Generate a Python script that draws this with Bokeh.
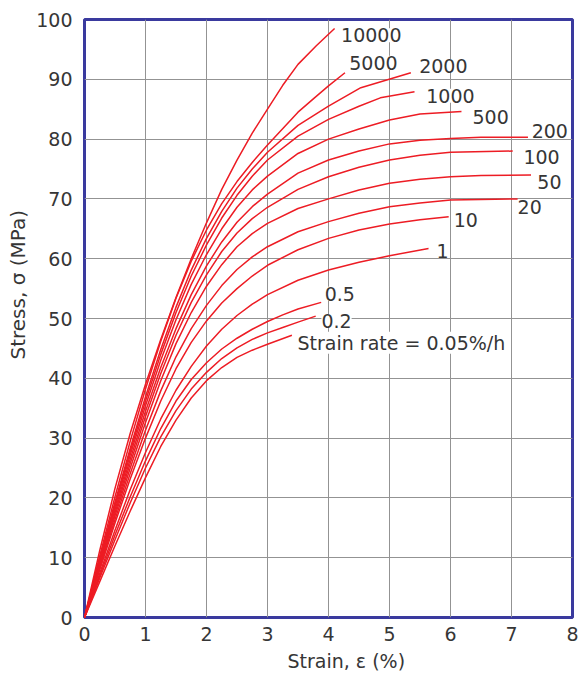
from bokeh.plotting import figure
from bokeh.models import Label, Title, Range1d, FixedTicker
from bokeh.embed import file_html
from bokeh.resources import INLINE

# ---- data: strain (%) and stress (MPa) for each strain rate (%/h) ----
early = [0, 0.25, 0.5, 0.75, 1, 1.25, 1.5, 1.75, 2, 2.25, 2.5, 2.75, 3]

strain_10000 = early + [3.25, 3.5, 3.8, 4.1]
stress_10000 = [0, 11.2, 21.6, 30.8, 39, 46.5, 53.5, 60, 66, 71.6, 76.5, 81, 85,
                89, 92.5, 95.6, 98.5]

strain_5000 = early + [3.5, 3.77, 4.0, 4.27]
stress_5000 = [0, 10.3, 20.2, 29.5, 38.2, 46.2, 53.4, 59.6, 64.8, 69.2, 72.9, 76.1, 79.0,
               84.5, 86.9, 88.9, 91.1]

strain_2000 = early + [3.5, 4, 4.53, 5.35]
stress_2000 = [0, 9.8, 19.3, 28.3, 36.9, 44.8, 51.9, 58.1, 63.4, 67.9, 71.8, 75, 77.8,
               82.3, 85.5, 88.6, 91.1]

strain_1000 = early + [3.5, 4, 4.5, 4.85, 5.41]
stress_1000 = [0, 9.6, 18.9, 27.8, 36.2, 44, 51, 57.1, 62.3, 66.8, 70.6, 73.8, 76.5,
               80.5, 83.3, 85.5, 86.9, 87.9]

strain_500 = early + [3.5, 4, 4.5, 5, 5.5, 6.18]
stress_500 = [0, 9.4, 18.5, 27.2, 35.4, 43, 49.8, 55.7, 60.7, 65, 68.6, 71.5, 73.8,
              77.6, 80, 81.7, 83.2, 84.2, 84.6]

strain_200 = early + [3.5, 4, 4.5, 5, 5.5, 6, 6.5, 7.27]
stress_200 = [0, 9.1, 18, 26.5, 34.5, 41.8, 48.3, 54, 58.8, 62.8, 66.1, 68.7, 70.8,
              74.3, 76.5, 78, 79.2, 79.8, 80.1, 80.3, 80.3]

strain_100 = early + [3.5, 4, 4.5, 5, 5.5, 6, 7.02]
stress_100 = [0, 8.9, 17.5, 25.8, 33.6, 40.8, 47.2, 52.7, 57.3, 61.2, 64.3, 66.7, 68.6,
              71.6, 73.7, 75.3, 76.5, 77.3, 77.8, 78]

strain_50 = early + [3.5, 4, 4.5, 5, 5.5, 6, 6.5, 7.32]
stress_50 = [0, 8.6, 17, 25, 32.6, 39.6, 45.8, 51, 55.4, 59, 62, 64.2, 65.9,
             68.4, 70, 71.5, 72.6, 73.3, 73.7, 73.9, 74]

strain_20 = early + [3.5, 4, 4.5, 5, 5.5, 6, 7.1]
stress_20 = [0, 8.3, 16.4, 24.1, 31.3, 37.9, 43.6, 48.3, 52.2, 55.5, 58.2, 60.3, 62.0,
             64.5, 66.2, 67.6, 68.7, 69.3, 69.8, 70]

strain_10 = early + [3.5, 4, 4.5, 5, 5.5, 5.97]
stress_10 = [0, 8, 15.8, 23.2, 30, 36.2, 41.6, 46, 49.6, 52.6, 55, 57.1, 58.9,
             61.5, 63.4, 64.8, 65.8, 66.5, 67]

strain_1 = early + [3.5, 4, 4.5, 5, 5.64]
stress_1 = [0, 7.4, 14.6, 21.4, 27.6, 33.2, 38, 42, 45.4, 48.2, 50.5, 52.4, 54.0,
            56.4, 58.1, 59.4, 60.5, 61.7]

strain_05 = early + [3.25, 3.5, 3.88]
stress_05 = [0, 7, 13.8, 20.2, 26.2, 31.6, 36.2, 39.8, 42.6, 44.9, 46.7, 48.2, 49.5,
             50.6, 51.6, 52.7]

strain_02 = early + [3.25, 3.5, 3.79]
stress_02 = [0, 6.6, 13, 19.2, 25, 30.2, 34.6, 38.2, 41, 43.3, 45.1, 46.5, 47.6,
             48.5, 49.4, 50.4]

strain_005 = early + [3.4]
stress_005 = [0, 6, 12, 17.8, 23.4, 28.6, 33, 36.7, 39.6, 41.8, 43.5, 44.7, 45.7, 47.2]

curve_labels = ["10000", "5000", "2000", "1000", "500", "200", "100",
                "50", "20", "10", "1", "0.5", "0.2", "Strain rate = 0.05%/h"]

x_ticks = [0, 1, 2, 3, 4, 5, 6, 7, 8]
y_ticks = [0, 10, 20, 30, 40, 50, 60, 70, 80, 90, 100]

series = [
    (strain_10000, stress_10000), (strain_5000, stress_5000),
    (strain_2000, stress_2000), (strain_1000, stress_1000),
    (strain_500, stress_500), (strain_200, stress_200),
    (strain_100, stress_100), (strain_50, stress_50),
    (strain_20, stress_20), (strain_10, stress_10),
    (strain_1, stress_1), (strain_05, stress_05),
    (strain_02, stress_02), (strain_005, stress_005),
]

# label offsets (screen px) from the end of each curve
label_offsets = [(6.5, -6.7), (4.3, 10), (8.3, 6.7), (11.7, -4), (11, -5.5),
                 (3.7, 6.5), (10.7, -6), (6.3, -7.5), (0, -8), (5, -3.5),
                 (8, -2), (3.5, 8.7), (5.7, -5), (5.6, -7.5)]

FONT = "DejaVu Sans"
TEXT_COLOR = "#363636"
RED = "#ed1c24"
BLUE = "#3a3a9e"

p = figure(frame_width=488, frame_height=598,
           x_range=Range1d(0, 8), y_range=Range1d(0, 100),
           output_backend="svg", toolbar_location=None,
           min_border_left=77, min_border_right=9, min_border_top=19,
           min_border_bottom=50)

p.background_fill_color = "white"
p.border_fill_color = "white"
p.outline_line_color = BLUE
p.outline_line_width = 3

for ax in (p.xaxis[0], p.yaxis[0]):
    ax.axis_line_color = None
    ax.major_tick_line_color = None
    ax.minor_tick_line_color = None
    ax.major_label_text_font = FONT
    ax.major_label_text_font_size = "19px"
    ax.major_label_text_color = TEXT_COLOR

p.xaxis.ticker = FixedTicker(ticks=x_ticks)
p.yaxis.ticker = FixedTicker(ticks=y_ticks)
p.xaxis.major_label_standoff = 3
p.yaxis.major_label_standoff = 6

p.xgrid.ticker = FixedTicker(ticks=x_ticks)
p.ygrid.ticker = FixedTicker(ticks=y_ticks)
for g in (p.xgrid[0], p.ygrid[0]):
    g.grid_line_color = "#939393"
    g.grid_line_width = 1

for (xs, ys) in series:
    p.line(xs, ys, line_color=RED, line_width=1.5)

for (xs, ys), txt, (dx, dy) in zip(series, curve_labels, label_offsets):
    p.add_layout(Label(x=xs[-1], y=ys[-1], x_offset=dx, y_offset=dy, text=txt,
                       text_align="left", text_baseline="middle",
                       text_font=FONT, text_font_size="19px",
                       text_color=TEXT_COLOR,
                       background_fill_color="white"))

xt = Title(text="Strain, ε  (%)", align="left", offset=203, standoff=8,
           text_font=FONT, text_font_size="19px", text_font_style="normal",
           text_color=TEXT_COLOR)
p.add_layout(xt, "below")

yt = Title(text="Stress, σ (MPa)", align="left", offset=258, standoff=7,
           text_font=FONT, text_font_size="20px", text_font_style="normal",
           text_color=TEXT_COLOR)
p.add_layout(yt, "left")

open("out.html", "w").write(file_html(p, INLINE))
